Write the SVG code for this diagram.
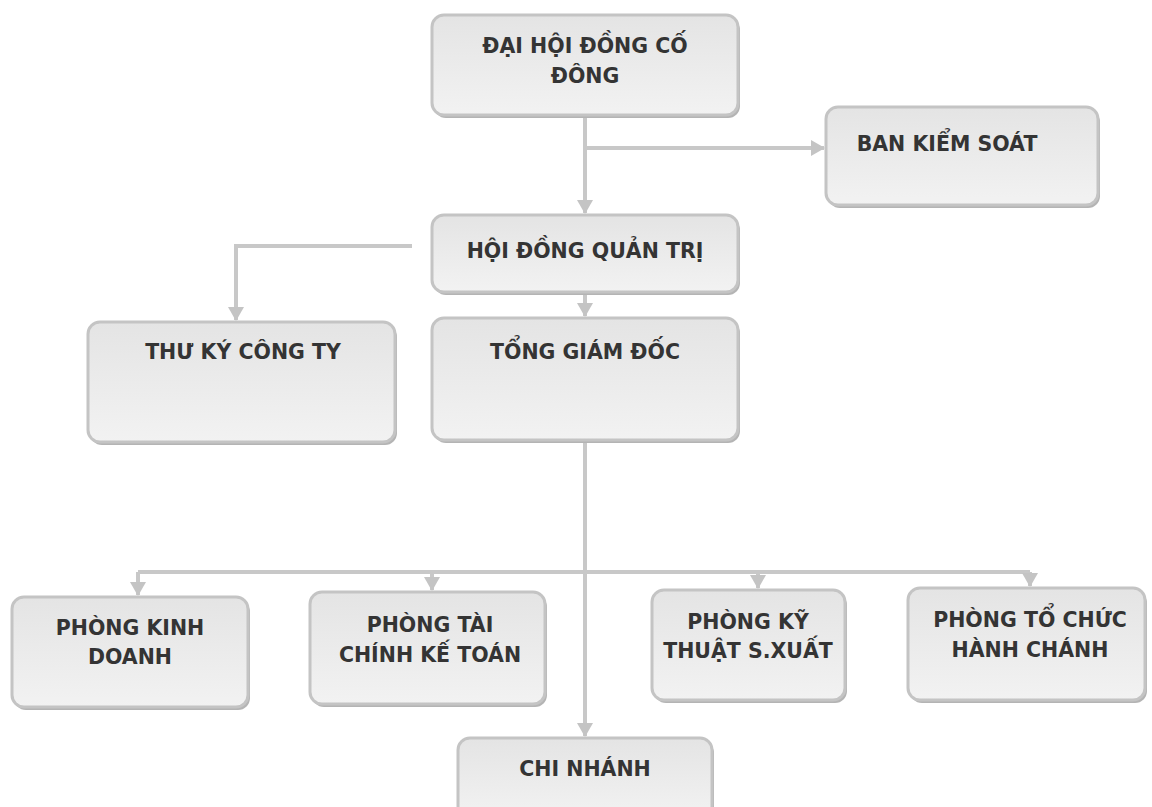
<svg xmlns="http://www.w3.org/2000/svg" width="1152" height="807" viewBox="0 0 1152 807">
  <defs>
    <linearGradient id="boxFill" x1="0" y1="0" x2="0" y2="1">
      <stop offset="0" stop-color="#e4e4e4"/>
      <stop offset="1" stop-color="#f2f2f2"/>
    </linearGradient>
    <marker id="arrow" viewBox="0 0 14 16" refX="13" refY="8" markerWidth="14" markerHeight="16" markerUnits="userSpaceOnUse" orient="auto">
      <path d="M0,0 L14,8 L0,16 Z" fill="#c4c4c4"/>
    </marker>
    <style>
      .box { fill: url(#boxFill); stroke: #c4c4c4; stroke-width: 3; }
      .shadow { fill: #b4b4b4; }
      .label { font-family: "DejaVu Sans", Verdana, sans-serif; font-weight: bold; font-size: 20.5px; fill: #343434; text-anchor: middle; }
      .conn { fill: none; stroke: #c8c8c8; stroke-width: 4; }
      .conn-arrow { fill: none; stroke: #c8c8c8; stroke-width: 4; marker-end: url(#arrow); }
    </style>
  </defs>
  <rect width="1152" height="807" fill="#ffffff"/>

  <g id="connectors">
    <path class="conn-arrow" d="M585,115 L585,213"/>
    <path class="conn-arrow" d="M585,148 L824,148"/>
    <path class="conn-arrow" d="M412,246 L236,246 L236,320"/>
    <path class="conn-arrow" d="M585,292 L585,316"/>
    <path class="conn-arrow" d="M585,440 L585,736"/>
    <path class="conn" d="M138,572 L1030,572"/>
    <path class="conn-arrow" d="M138,572 L138,595"/>
    <path class="conn-arrow" d="M432,572 L432,590"/>
    <path class="conn-arrow" d="M758,572 L758,588"/>
    <path class="conn-arrow" d="M1030,572 L1030,586"/>
  </g>

  <g id="node-dhdcd">
    <rect class="shadow" x="434" y="18" width="306" height="100" rx="12"/>
    <rect class="box" x="432" y="15" width="306" height="100" rx="12"/>
    <text class="label" x="585" y="53">ĐẠI HỘI ĐỒNG CỐ</text>
    <text class="label" x="585" y="83">ĐÔNG</text>
  </g>

  <g id="node-bks">
    <rect class="shadow" x="828" y="110" width="272" height="98" rx="12"/>
    <rect class="box" x="826" y="107" width="272" height="98" rx="12"/>
    <text class="label" x="947" y="151">BAN KIỂM SOÁT</text>
  </g>

  <g id="node-hdqt">
    <rect class="shadow" x="434" y="218" width="306" height="77" rx="12"/>
    <rect class="box" x="432" y="215" width="306" height="77" rx="12"/>
    <text class="label" x="585" y="258">HỘI ĐỒNG QUẢN TRỊ</text>
  </g>

  <g id="node-thuky">
    <rect class="shadow" x="90" y="325" width="307" height="120" rx="12"/>
    <rect class="box" x="88" y="322" width="307" height="120" rx="12"/>
    <text class="label" x="243" y="359">THƯ KÝ CÔNG TY</text>
  </g>

  <g id="node-tgd">
    <rect class="shadow" x="434" y="321" width="306" height="122" rx="12"/>
    <rect class="box" x="432" y="318" width="306" height="122" rx="12"/>
    <text class="label" x="585" y="359">TỔNG GIÁM ĐỐC</text>
  </g>

  <g id="node-kinhdoanh">
    <rect class="shadow" x="14" y="600" width="236" height="110" rx="12"/>
    <rect class="box" x="12" y="597" width="236" height="110" rx="12"/>
    <text class="label" x="130" y="635">PHÒNG KINH</text>
    <text class="label" x="130" y="664">DOANH</text>
  </g>

  <g id="node-taichinh">
    <rect class="shadow" x="312" y="595" width="235" height="112" rx="12"/>
    <rect class="box" x="310" y="592" width="235" height="112" rx="12"/>
    <text class="label" x="430" y="632">PHÒNG TÀI</text>
    <text class="label" x="430" y="662">CHÍNH KẾ TOÁN</text>
  </g>

  <g id="node-kythuat">
    <rect class="shadow" x="654" y="593" width="193" height="110" rx="12"/>
    <rect class="box" x="652" y="590" width="193" height="110" rx="12"/>
    <text class="label" x="748" y="629">PHÒNG KỸ</text>
    <text class="label" x="748" y="658">THUẬT S.XUẤT</text>
  </g>

  <g id="node-tochuc">
    <rect class="shadow" x="910" y="591" width="237" height="112" rx="12"/>
    <rect class="box" x="908" y="588" width="237" height="112" rx="12"/>
    <text class="label" x="1030" y="627">PHÒNG TỔ CHỨC</text>
    <text class="label" x="1030" y="657">HÀNH CHÁNH</text>
  </g>

  <g id="node-chinhanh">
    <rect class="shadow" x="460" y="741" width="254" height="80" rx="12"/>
    <rect class="box" x="458" y="738" width="254" height="80" rx="12"/>
    <text class="label" x="585" y="776">CHI NHÁNH</text>
  </g>
</svg>
